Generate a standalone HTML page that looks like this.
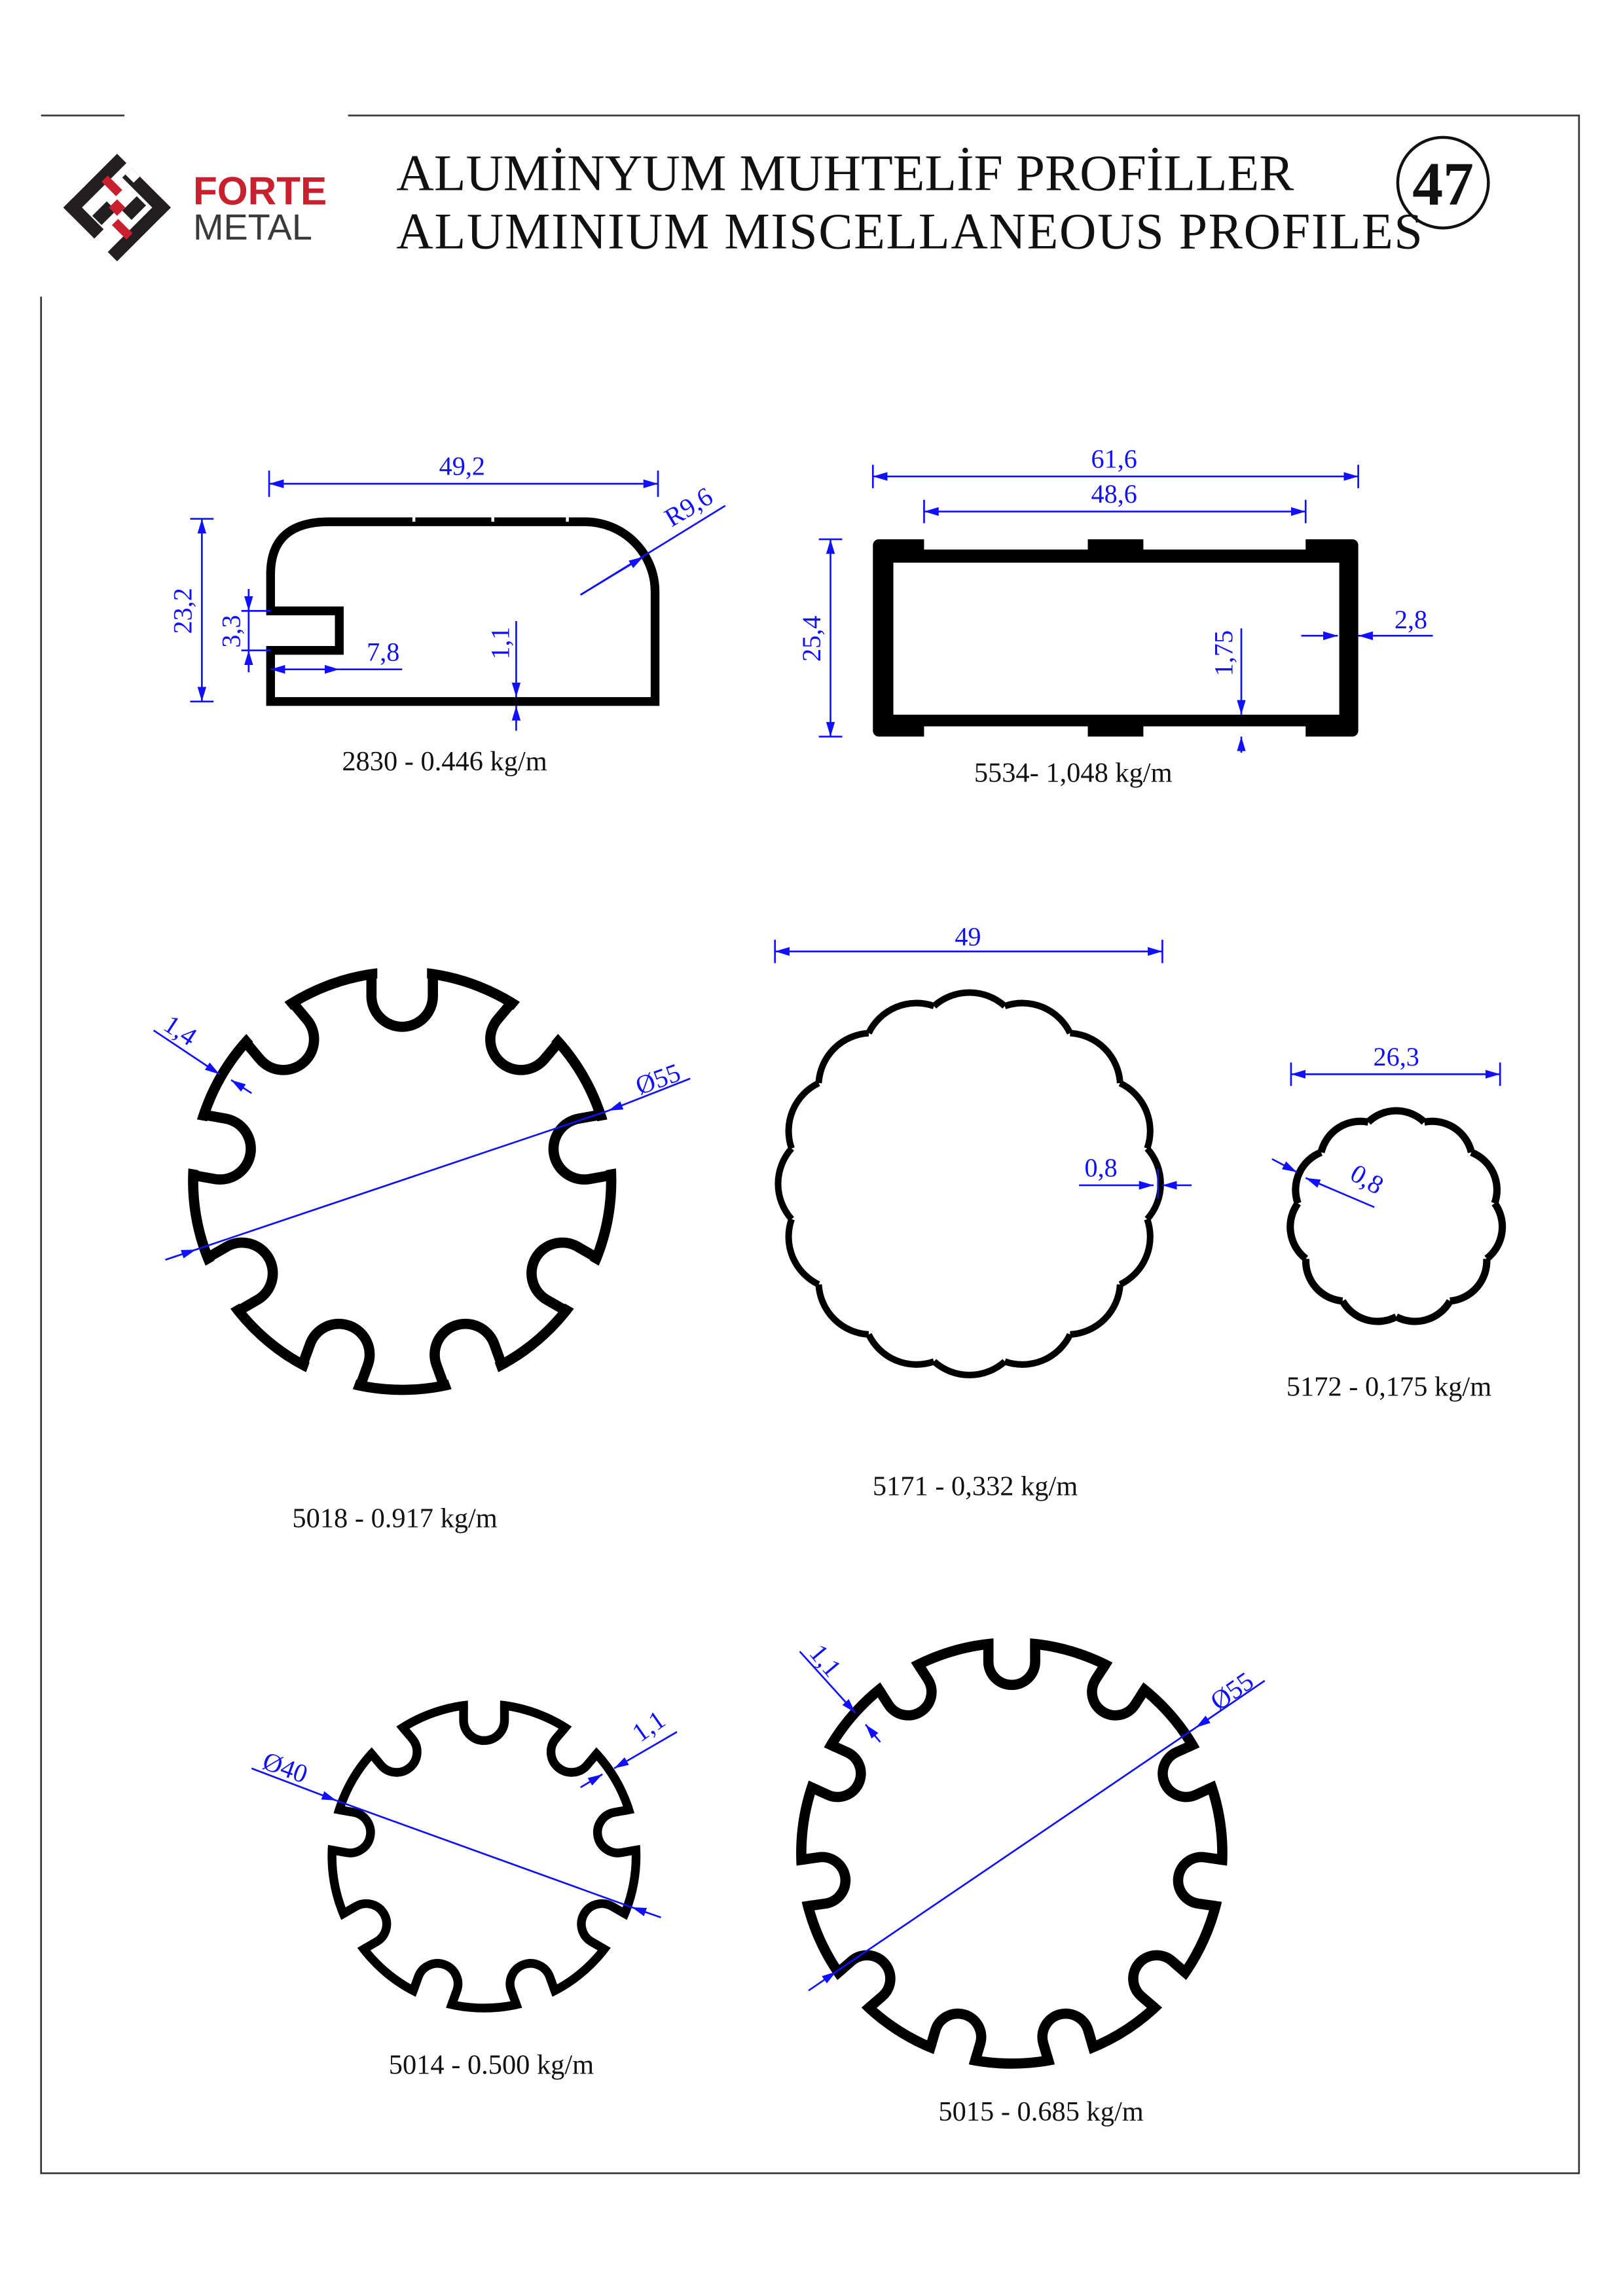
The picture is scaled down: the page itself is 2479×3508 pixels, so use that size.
<!DOCTYPE html>
<html><head><meta charset="utf-8">
<style>
html,body{margin:0;padding:0;background:#fff;}
svg{display:block;}
.t{font-family:"Liberation Serif",serif;}
.d{font-family:"Liberation Serif",serif;fill:#1010ff;font-size:18px;}
.lb{font-family:"Liberation Serif",serif;fill:#111;font-size:19px;}
.dl{stroke:#1010ff;stroke-width:1.2;fill:none;}
</style></head>
<body>
<svg width="2479" height="3508" viewBox="0 0 1110 1571" xmlns="http://www.w3.org/2000/svg">
<defs>
<marker id="a" viewBox="0 0 10 6" refX="10" refY="3" markerWidth="10" markerHeight="6" markerUnits="userSpaceOnUse" orient="auto-start-reverse"><path d="M0,0L10,3L0,6z" fill="#1010ff"/></marker>
<rect id="c18" x="-17" y="-152" width="34" height="16" fill="#fff"/>
<path id="n18" d="M-21,-141.45 L-21,-126.45 A21,21 0 0 0 21,-126.45 L21,-141.45" fill="none" stroke="#000" stroke-width="7"/>
<rect id="c14" x="-11" y="-111" width="22" height="13" fill="#fff"/>
<path id="n14" d="M-14,-103.05 L-14,-93.05 A14,14 0 0 0 14,-93.05 L14,-103.05" fill="none" stroke="#000" stroke-width="6"/>
<rect id="c15" x="-12.5" y="-152" width="25" height="15" fill="#fff"/>
<path id="n15" d="M-16,-143.11 L-16,-131.11 A16,16 0 0 0 16,-131.11 L16,-143.11" fill="none" stroke="#000" stroke-width="7"/>
<path id="b71" d="M-24.19,-121.62 A36.3,36.3 0 0 1 24.19,-121.62" fill="none" stroke="#000" stroke-width="4.5"/>
<path id="b72" d="M-19.16,-65.25 A27.6,27.6 0 0 1 19.16,-65.25" fill="none" stroke="#000" stroke-width="5"/>
</defs>
<rect width="1110" height="1571" fill="#fff"/>
<g stroke="#333" stroke-width="1.2" fill="none">
<path d="M28,79H85M238,79H1080V1487H28V203"/>
</g>
<!-- logo -->
<g transform="translate(80,142) rotate(45)">
<rect x="-26" y="-26" width="9" height="52" fill="#231f20"/>
<rect x="-26" y="17" width="30" height="9" fill="#231f20"/>
<rect x="-12" y="-26" width="38" height="9" fill="#231f20"/>
<rect x="17" y="-26" width="9" height="52" fill="#231f20"/>
<rect x="-8" y="2" width="9" height="14" fill="#231f20"/>
<rect x="4" y="-15" width="9" height="14" fill="#231f20"/>
<rect x="-4" y="-4" width="8" height="8" fill="#c8202f"/>
<rect x="-12" y="-26" width="8" height="6" fill="#fff"/>
<rect x="-16" y="-15" width="6" height="14" fill="#c8202f" transform="rotate(90 -13 -8)"/>
<rect x="10" y="1" width="6" height="14" fill="#c8202f" transform="rotate(90 13 8)"/>
</g>
<text x="132" y="140" font-family="Liberation Sans,sans-serif" font-size="27" font-weight="bold" fill="#c8202f">FORTE</text>
<text x="132" y="164" font-family="Liberation Sans,sans-serif" font-size="25" fill="#3a3a3a">METAL</text>
<text class="t" x="271" y="130" font-size="35" fill="#111" textLength="614" lengthAdjust="spacingAndGlyphs">ALUMİNYUM MUHTELİF PROFİLLER</text>
<text class="t" x="271" y="170" font-size="35" fill="#111" textLength="702" lengthAdjust="spacing">ALUMINIUM MISCELLANEOUS  PROFILES</text>
<circle cx="987" cy="125" r="31" fill="none" stroke="#111" stroke-width="2"/>
<text class="t" x="987" y="140" font-size="42" font-weight="bold" text-anchor="middle" fill="#111">47</text>

<!-- 2830 -->
<path d="M185,480 L185,445 L232,445 L232,418 L185,418 L185,393 Q185,357 225,357 L400,357 A48,48 0 0 1 448,405 L448,480 Z" fill="none" stroke="#000" stroke-width="6"/>
<g stroke="#fff" stroke-width="2"><path d="M283,353V357M337,353V357M388,353V357"/></g>
<g class="dl">
<path d="M184,322V340M450,322V340M130,355H146M130,480H146"/>
<line x1="184" y1="331" x2="450" y2="331" marker-start="url(#a)" marker-end="url(#a)"/>
<line x1="138" y1="355" x2="138" y2="480" marker-start="url(#a)" marker-end="url(#a)"/>
<line x1="170" y1="403" x2="170" y2="418" marker-end="url(#a)"/>
<line x1="170" y1="460" x2="170" y2="445" marker-end="url(#a)"/>
<path d="M165,418H185M165,445H185M170,418V445"/>
<line x1="185" y1="458" x2="232" y2="458" marker-start="url(#a)" marker-end="url(#a)"/>
<path d="M232,458H275"/>
<line x1="353" y1="425" x2="353" y2="477" marker-end="url(#a)"/>
<line x1="353" y1="500" x2="353" y2="483" marker-end="url(#a)"/>
<line x1="397" y1="407" x2="496" y2="346"/>
<line x1="397" y1="407" x2="440" y2="381" marker-end="url(#a)"/>
</g>
<text class="d" x="316" y="325" text-anchor="middle">49,2</text>
<text class="d" transform="translate(131,418) rotate(-90)" text-anchor="middle">23,2</text>
<text class="d" transform="translate(164,432) rotate(-90)" text-anchor="middle">3,3</text>
<text class="d" x="262" y="452" text-anchor="middle">7,8</text>
<text class="d" transform="translate(348,440) rotate(-90)" text-anchor="middle">1,1</text>
<text class="d" transform="translate(474,352) rotate(-31)" text-anchor="middle">R9,6</text>
<text class="lb" x="304" y="527" text-anchor="middle">2830 - 0.446 kg/m</text>

<!-- 5534 -->
<rect x="597" y="369" width="332" height="135" rx="4" fill="#000"/>
<rect x="611" y="385" width="305" height="104" fill="#fff"/>
<g fill="#fff">
<rect x="632" y="366" width="112" height="10"/><rect x="782" y="366" width="111" height="10"/>
<rect x="632" y="497" width="112" height="10"/><rect x="782" y="497" width="111" height="10"/>
</g>
<g class="dl">
<path d="M597,318V334M929,318V334M632,342V358M893,342V358M560,369H576M560,504H576"/>
<line x1="597" y1="326" x2="929" y2="326" marker-start="url(#a)" marker-end="url(#a)"/>
<line x1="632" y1="350" x2="893" y2="350" marker-start="url(#a)" marker-end="url(#a)"/>
<line x1="568" y1="369" x2="568" y2="504" marker-start="url(#a)" marker-end="url(#a)"/>
<line x1="890" y1="435" x2="915" y2="435" marker-end="url(#a)"/>
<line x1="980" y1="435" x2="929" y2="435" marker-end="url(#a)"/>
<line x1="849" y1="430" x2="849" y2="489" marker-end="url(#a)"/>
<line x1="849" y1="515" x2="849" y2="504" marker-end="url(#a)"/>
</g>
<text class="d" x="762" y="320" text-anchor="middle">61,6</text>
<text class="d" x="762" y="344" text-anchor="middle">48,6</text>
<text class="d" transform="translate(561,437) rotate(-90)" text-anchor="middle">25,4</text>
<text class="d" x="965" y="430" text-anchor="middle">2,8</text>
<text class="d" transform="translate(843,447) rotate(-90)" text-anchor="middle">1,75</text>
<text class="lb" x="734" y="535" text-anchor="middle">5534- 1,048 kg/m</text>

<!-- 5018 gear -->
<g transform="translate(275,808)">
<circle r="143" fill="none" stroke="#000" stroke-width="7"/>
<use href="#c18" transform="rotate(0)"/><use href="#c18" transform="rotate(40)"/><use href="#c18" transform="rotate(80)"/><use href="#c18" transform="rotate(120)"/><use href="#c18" transform="rotate(160)"/><use href="#c18" transform="rotate(200)"/><use href="#c18" transform="rotate(240)"/><use href="#c18" transform="rotate(280)"/><use href="#c18" transform="rotate(320)"/>
<use href="#n18" transform="rotate(0)"/><use href="#n18" transform="rotate(40)"/><use href="#n18" transform="rotate(80)"/><use href="#n18" transform="rotate(120)"/><use href="#n18" transform="rotate(160)"/><use href="#n18" transform="rotate(200)"/><use href="#n18" transform="rotate(240)"/><use href="#n18" transform="rotate(280)"/><use href="#n18" transform="rotate(320)"/>
</g>
<!-- 5014 gear -->
<g transform="translate(331,1270)">
<circle r="104" fill="none" stroke="#000" stroke-width="6"/>
<use href="#c14" transform="rotate(0)"/><use href="#c14" transform="rotate(40)"/><use href="#c14" transform="rotate(80)"/><use href="#c14" transform="rotate(120)"/><use href="#c14" transform="rotate(160)"/><use href="#c14" transform="rotate(200)"/><use href="#c14" transform="rotate(240)"/><use href="#c14" transform="rotate(280)"/><use href="#c14" transform="rotate(320)"/>
<use href="#n14" transform="rotate(0)"/><use href="#n14" transform="rotate(40)"/><use href="#n14" transform="rotate(80)"/><use href="#n14" transform="rotate(120)"/><use href="#n14" transform="rotate(160)"/><use href="#n14" transform="rotate(200)"/><use href="#n14" transform="rotate(240)"/><use href="#n14" transform="rotate(280)"/><use href="#n14" transform="rotate(320)"/>
</g>
<!-- 5015 gear -->
<g transform="translate(692,1268)">
<circle r="144" fill="none" stroke="#000" stroke-width="7"/>
<use href="#c15" transform="rotate(0)"/><use href="#c15" transform="rotate(32.727)"/><use href="#c15" transform="rotate(65.455)"/><use href="#c15" transform="rotate(98.182)"/><use href="#c15" transform="rotate(130.909)"/><use href="#c15" transform="rotate(163.636)"/><use href="#c15" transform="rotate(196.364)"/><use href="#c15" transform="rotate(229.091)"/><use href="#c15" transform="rotate(261.818)"/><use href="#c15" transform="rotate(294.545)"/><use href="#c15" transform="rotate(327.273)"/>
<use href="#n15" transform="rotate(0)"/><use href="#n15" transform="rotate(32.727)"/><use href="#n15" transform="rotate(65.455)"/><use href="#n15" transform="rotate(98.182)"/><use href="#n15" transform="rotate(130.909)"/><use href="#n15" transform="rotate(163.636)"/><use href="#n15" transform="rotate(196.364)"/><use href="#n15" transform="rotate(229.091)"/><use href="#n15" transform="rotate(261.818)"/><use href="#n15" transform="rotate(294.545)"/><use href="#n15" transform="rotate(327.273)"/>
</g>
<!-- 5171 scallop -->
<g transform="translate(663,810)">
<use href="#b71" transform="rotate(0)"/><use href="#b71" transform="rotate(22.5)"/><use href="#b71" transform="rotate(45)"/><use href="#b71" transform="rotate(67.5)"/><use href="#b71" transform="rotate(90)"/><use href="#b71" transform="rotate(112.5)"/><use href="#b71" transform="rotate(135)"/><use href="#b71" transform="rotate(157.5)"/><use href="#b71" transform="rotate(180)"/><use href="#b71" transform="rotate(202.5)"/><use href="#b71" transform="rotate(225)"/><use href="#b71" transform="rotate(247.5)"/><use href="#b71" transform="rotate(270)"/><use href="#b71" transform="rotate(292.5)"/><use href="#b71" transform="rotate(315)"/><use href="#b71" transform="rotate(337.5)"/>
</g>
<!-- 5172 scallop -->
<g transform="translate(955,833)">
<use href="#b72" transform="rotate(0)"/><use href="#b72" transform="rotate(32.727)"/><use href="#b72" transform="rotate(65.455)"/><use href="#b72" transform="rotate(98.182)"/><use href="#b72" transform="rotate(130.909)"/><use href="#b72" transform="rotate(163.636)"/><use href="#b72" transform="rotate(196.364)"/><use href="#b72" transform="rotate(229.091)"/><use href="#b72" transform="rotate(261.818)"/><use href="#b72" transform="rotate(294.545)"/><use href="#b72" transform="rotate(327.273)"/>
</g>

<!-- 5018 dims -->
<g class="dl">
<line x1="105" y1="705" x2="150" y2="735" marker-end="url(#a)"/>
<line x1="172" y1="748" x2="158" y2="739" marker-end="url(#a)"/>
<line x1="113" y1="862" x2="134" y2="855" marker-end="url(#a)"/>
<line x1="134" y1="855" x2="416" y2="760"/>
<line x1="472" y1="738" x2="416" y2="760" marker-end="url(#a)"/>
</g>
<text class="d" transform="translate(120,710) rotate(33)" text-anchor="middle">1,4</text>
<text class="d" transform="translate(452,744) rotate(-20)" text-anchor="middle">Ø55</text>
<text class="lb" x="270" y="1045" text-anchor="middle">5018 - 0.917 kg/m</text>

<!-- 5171 dims -->
<g class="dl">
<path d="M530,643V659M795,643V659M792,800V820"/>
<line x1="530" y1="651" x2="795" y2="651" marker-start="url(#a)" marker-end="url(#a)"/>
<line x1="738" y1="811" x2="789" y2="811" marker-end="url(#a)"/>
<line x1="815" y1="811" x2="795" y2="811" marker-end="url(#a)"/>
</g>
<text class="d" x="753" y="805" text-anchor="middle">0,8</text>
<text class="d" x="662" y="647" text-anchor="middle">49</text>
<text class="lb" x="667" y="1023" text-anchor="middle">5171 - 0,332 kg/m</text>

<!-- 5172 dims -->
<g class="dl">
<path d="M883,727V743M1026,727V743"/>
<line x1="883" y1="735" x2="1026" y2="735" marker-start="url(#a)" marker-end="url(#a)"/>
<line x1="870" y1="793" x2="887" y2="802" marker-end="url(#a)"/>
<line x1="940" y1="826" x2="893" y2="806" marker-end="url(#a)"/>
</g>
<text class="d" x="955" y="729" text-anchor="middle">26,3</text>
<text class="d" transform="translate(932,812) rotate(30)" text-anchor="middle">0,8</text>
<text class="lb" x="950" y="955" text-anchor="middle">5172 - 0,175 kg/m</text>

<!-- 5014 dims -->
<g class="dl">
<line x1="172" y1="1210" x2="230" y2="1232" marker-end="url(#a)"/>
<line x1="230" y1="1232" x2="432" y2="1305"/>
<line x1="452" y1="1312" x2="432" y2="1305" marker-end="url(#a)"/>
<line x1="463" y1="1185" x2="420" y2="1210" marker-end="url(#a)"/>
<line x1="397" y1="1223" x2="412" y2="1214" marker-end="url(#a)"/>
</g>
<text class="d" transform="translate(193,1215) rotate(20)" text-anchor="middle">Ø40</text>
<text class="d" transform="translate(447,1186) rotate(-35)" text-anchor="middle">1,1</text>
<text class="lb" x="336" y="1419" text-anchor="middle">5014 - 0.500 kg/m</text>

<!-- 5015 dims -->
<g class="dl">
<line x1="547" y1="1130" x2="585" y2="1172" marker-end="url(#a)"/>
<line x1="602" y1="1192" x2="592" y2="1180" marker-end="url(#a)"/>
<line x1="553" y1="1362" x2="572" y2="1349" marker-end="url(#a)"/>
<line x1="572" y1="1349" x2="818" y2="1182"/>
<line x1="865" y1="1150" x2="818" y2="1182" marker-end="url(#a)"/>
</g>
<text class="d" transform="translate(560,1140) rotate(50)" text-anchor="middle">1,1</text>
<text class="d" transform="translate(846,1162) rotate(-35)" text-anchor="middle">Ø55</text>
<text class="lb" x="712" y="1451" text-anchor="middle">5015 - 0.685 kg/m</text>
</svg>
</body></html>
